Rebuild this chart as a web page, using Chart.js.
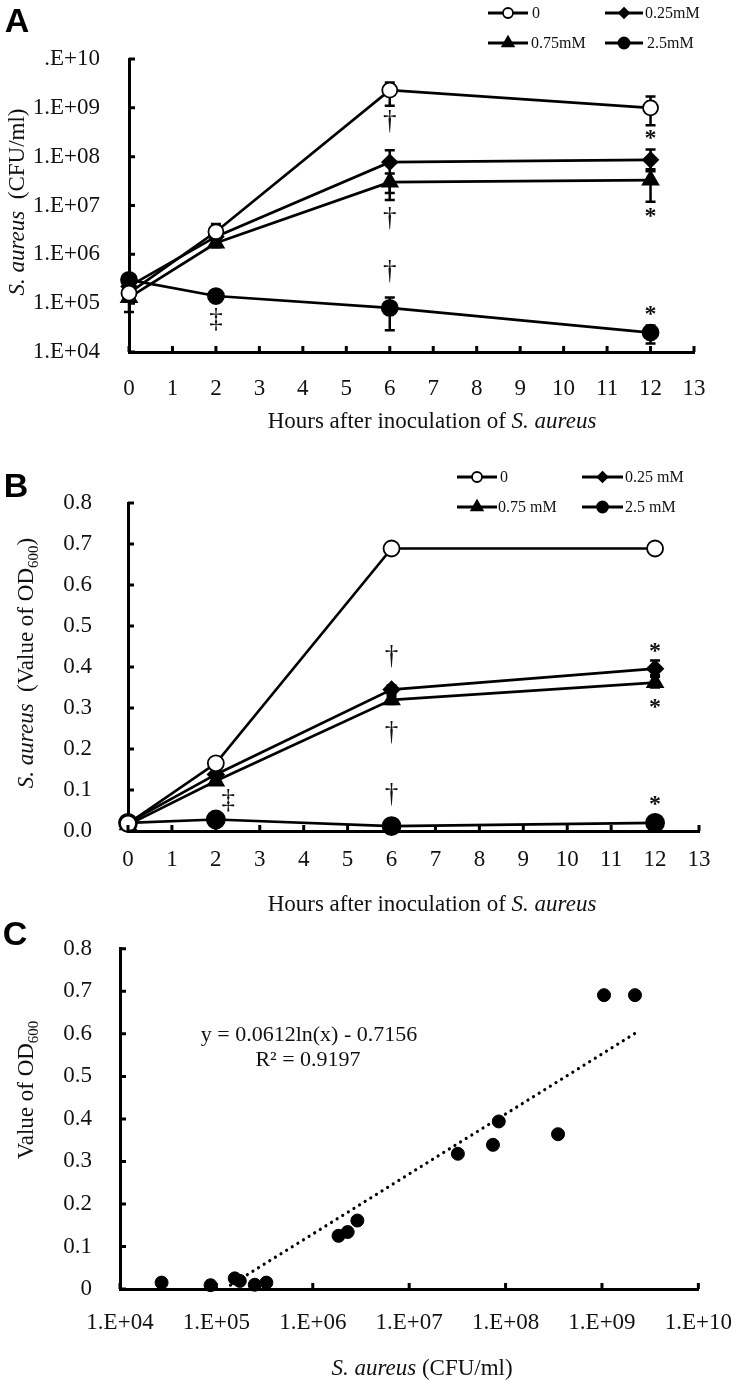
<!DOCTYPE html>
<html>
<head>
<meta charset="utf-8">
<script src="https://cdn.jsdelivr.net/npm/chart.js@4"></script>
<style>
  body { margin: 0; background: #fff; }
  #wrap { position: relative; width: 744px; height: 1380px; }
  canvas { position: absolute; left: 0; }
</style>
</head>
<body>
<div id="wrap">
  <canvas id="chartA" width="744" height="460" style="top:0"></canvas>
  <canvas id="chartB" width="744" height="455" style="top:460px"></canvas>
  <canvas id="chartC" width="744" height="465" style="top:915px"></canvas>
</div>
<script>
// ---- data ----
const hours = [0, 2, 6, 12];
const hourTicks = [0, 1, 2, 3, 4, 5, 6, 7, 8, 9, 10, 11, 12, 13];
const namesA = ['0', '0.25mM', '0.75mM', '2.5mM'];
const namesB = ['0', '0.25 mM', '0.75 mM', '2.5 mM'];

// Panel A: S. aureus (CFU/ml)
const cfu0 = [1.6e5, 2.9e6, 2.3e9, 1.0e9];
const cfu025 = [2.2e5, 2.3e6, 7.7e7, 8.6e7];
const cfu075 = [1.3e5, 1.7e6, 3.0e7, 3.3e7];
const cfu25 = [3.0e5, 1.4e5, 8.0e4, 2.5e4];
// error bar ends
const cfu0Lo = [1.3e5, 2.2e6, 1.1e9, 4.4e8];
const cfu0Hi = [2.0e5, 4.2e6, 3.3e9, 1.7e9];
const cfu025Lo = [1.8e5, 1.9e6, 1.8e7, 5.5e7];
const cfu025Hi = [2.7e5, 2.8e6, 1.35e8, 1.4e8];
const cfu075Lo = [6.6e4, 1.4e6, 1.3e7, 1.2e7];
const cfu075Hi = [1.6e5, 2.0e6, 4.5e7, 5.0e7];
const cfu25Lo = [2.5e5, 1.2e5, 2.8e4, 1.5e4];
const cfu25Hi = [3.6e5, 1.6e5, 1.3e5, 3.5e4];
const cfuTicks = [1e4, 1e5, 1e6, 1e7, 1e8, 1e9, 1e10];
const cfuTickLabels = ['1.E+04', '1.E+05', '1.E+06', '1.E+07', '1.E+08', '1.E+09', '.E+10'];

// Panel B: OD600
const od0 = [0.018, 0.165, 0.689, 0.689];
const od025 = [0.020, 0.138, 0.345, 0.396];
const od075 = [0.015, 0.122, 0.320, 0.362];
const od25 = [0.020, 0.028, 0.012, 0.020];
const od0Lo = [0.015, 0.158, 0.675, 0.680];
const od0Hi = [0.021, 0.172, 0.703, 0.698];
const od025Lo = [0.018, 0.132, 0.335, 0.380];
const od025Hi = [0.022, 0.144, 0.355, 0.416];
const od075Lo = [0.013, 0.116, 0.310, 0.350];
const od075Hi = [0.017, 0.128, 0.330, 0.376];
const od25Lo = [0.018, 0.025, 0.010, 0.017];
const od25Hi = [0.022, 0.031, 0.014, 0.023];
const odTicks = [0, 0.1, 0.2, 0.3, 0.4, 0.5, 0.6, 0.7, 0.8];
const odTickLabelsB = ['0.0', '0.1', '0.2', '0.3', '0.4', '0.5', '0.6', '0.7', '0.8'];
const odTickLabelsC = ['0', '0.1', '0.2', '0.3', '0.4', '0.5', '0.6', '0.7', '0.8'];

// Panel C: OD600 vs CFU/ml
const scatterCfu = [2.7e4, 8.7e4, 1.55e5, 1.75e5, 2.5e5, 3.3e5, 1.85e6, 2.3e6, 2.9e6, 3.2e7, 7.4e7, 8.5e7, 3.5e8, 1.05e9, 2.2e9];
const scatterOd = [0.015, 0.009, 0.025, 0.019, 0.010, 0.015, 0.125, 0.134, 0.161, 0.318, 0.339, 0.394, 0.364, 0.691, 0.691];
const trendCfu = [1.4e5, 2.2e9];
const trendOd = [0.009, 0.601];
const cfuTickLabelsC = ['1.E+04', '1.E+05', '1.E+06', '1.E+07', '1.E+08', '1.E+09', '1.E+10'];

// significance marks (data coordinates)
const marksA = [
    { x: 6, y: 3.8e8, s: '\u2020' }, { x: 6, y: 5.5e6, s: '\u2020' }, { x: 6, y: 4.4e5, s: '\u2020' },
    { x: 2, y: 4.7e4, s: '\u2021' },
    { x: 12, y: 2.8e8, s: '*' }, { x: 12, y: 7.2e6, s: '*' }, { x: 12, y: 7.2e4, s: '*' }
];
const marksB = [
    { x: 6, y: 0.409, s: '\u2020' }, { x: 6, y: 0.241, s: '\u2020' }, { x: 6, y: 0.088, s: '\u2020' },
    { x: 2.28, y: 0.075, s: '\u2021' },
    { x: 12, y: 0.448, s: '*' }, { x: 12, y: 0.311, s: '*' }, { x: 12, y: 0.075, s: '*' }
];

// ---- styling helpers ----
const SERIF = '"Liberation Serif", "Times New Roman", serif';
const SANS = '"Liberation Sans", Arial, sans-serif';
const INK = '#111';
const tickFont = { family: SERIF, size: 23 };

function run(text, size, style, dy) {
    return { text: text, font: (style || '') + ' ' + size + 'px ' + SERIF, dy: dy || 0 };
}

function drawRuns(ctx, runs, cx, cy, rot, size) {
    ctx.save();
    ctx.translate(cx, cy);
    ctx.rotate(rot || 0);
    let total = 0;
    runs.forEach(r => { ctx.font = r.font; r.w = ctx.measureText(r.text).width; total += r.w; });
    let x = -total / 2;
    ctx.textBaseline = 'alphabetic';
    ctx.textAlign = 'left';
    ctx.fillStyle = INK;
    const base = (size || 23) * 0.33;
    runs.forEach(r => { ctx.font = r.font; ctx.fillText(r.text, x, base + r.dy); x += r.w; });
    ctx.restore();
}

function drawInkCentered(ctx, text, x, y) {
    const m = ctx.measureText(text);
    const asc = m.actualBoundingBoxAscent, desc = m.actualBoundingBoxDescent;
    ctx.textAlign = 'center';
    ctx.textBaseline = 'alphabetic';
    ctx.fillText(text, x, y + (asc - desc) / 2);
}

function drawMarker(ctx, style, x, y, r, fill) {
    ctx.beginPath();
    if (style === 'circle') {
        ctx.arc(x, y, r, 0, Math.PI * 2);
    } else if (style === 'rectRot') {
        ctx.moveTo(x, y - r); ctx.lineTo(x + r, y); ctx.lineTo(x, y + r); ctx.lineTo(x - r, y);
        ctx.closePath();
    } else if (style === 'triangle') {
        ctx.moveTo(x, y - r); ctx.lineTo(x + r * 0.87, y + r * 0.5); ctx.lineTo(x - r * 0.87, y + r * 0.5);
        ctx.closePath();
    }
    ctx.fillStyle = fill;
    ctx.fill();
    ctx.lineWidth = 1.8;
    ctx.strokeStyle = '#000';
    ctx.stroke();
}

// error bars, inward tick marks, legend, letters, titles and marks
const decorPlugin = {
    id: 'decor',
    beforeDatasetsDraw(chart) {
        const ctx = chart.ctx;
        const ys = chart.scales.y;
        chart.data.datasets.forEach((ds, i) => {
            if (!ds.errLo) return;
            const meta = chart.getDatasetMeta(i);
            ctx.save();
            ctx.strokeStyle = '#000';
            ctx.lineWidth = 2.5;
            meta.data.forEach((pt, j) => {
                const yl = ys.getPixelForValue(ds.errLo[j]);
                const yh = ys.getPixelForValue(ds.errHi[j]);
                ctx.beginPath();
                ctx.moveTo(pt.x, yl); ctx.lineTo(pt.x, yh);
                ctx.moveTo(pt.x - 5, yl); ctx.lineTo(pt.x + 5, yl);
                ctx.moveTo(pt.x - 5, yh); ctx.lineTo(pt.x + 5, yh);
                ctx.stroke();
            });
            ctx.restore();
        });
    },
    afterDraw(chart, args, opts) {
        const ctx = chart.ctx;
        const area = chart.chartArea;
        const xs = chart.scales.x, ys = chart.scales.y;
        ctx.save();

        // inward ticks
        ctx.strokeStyle = '#000';
        ctx.lineWidth = 3;
        ctx.beginPath();
        xs.ticks.forEach(t => {
            const px = xs.getPixelForValue(t.value);
            ctx.moveTo(px, area.bottom); ctx.lineTo(px, area.bottom - 6);
        });
        ys.ticks.forEach(t => {
            const py = ys.getPixelForValue(t.value);
            ctx.moveTo(area.left, py); ctx.lineTo(area.left + 6, py);
        });
        ctx.stroke();

        // panel letter
        if (opts.letter) {
            ctx.fillStyle = '#000';
            ctx.font = 'bold 34px ' + SANS;
            drawInkCentered(ctx, opts.letter.text, opts.letter.x, opts.letter.y);
        }

        // legend
        (opts.legend || []).forEach(item => {
            const ds = chart.data.datasets[item.ds];
            ctx.strokeStyle = '#000';
            ctx.lineWidth = 3;
            ctx.beginPath();
            ctx.moveTo(item.x1, item.y); ctx.lineTo(item.x2, item.y);
            ctx.stroke();
            drawMarker(ctx, ds.pointStyle, (item.x1 + item.x2) / 2, item.y, item.r, ds.pointBackgroundColor);
            ctx.fillStyle = INK;
            ctx.font = '16px ' + SERIF;
            ctx.textAlign = 'left';
            ctx.textBaseline = 'middle';
            ctx.fillText(ds.label, item.tx, item.y + 1);
        });

        // titles
        (opts.titles || []).forEach(t => drawRuns(ctx, t.runs, t.x, t.y, t.rot, t.size));

        // significance marks
        (opts.marks || []).forEach(m => {
            ctx.fillStyle = INK;
            ctx.font = (m.s === '*' ? 'bold 24px ' : '27px ') + SERIF;
            drawInkCentered(ctx, m.s, xs.getPixelForValue(m.x), ys.getPixelForValue(m.y));
        });

        // free text
        (opts.texts || []).forEach(t => {
            ctx.fillStyle = INK;
            ctx.font = t.font;
            ctx.textAlign = 'center';
            ctx.textBaseline = 'middle';
            ctx.fillText(t.text, t.x, t.y);
        });
        ctx.restore();
    }
};

function lineSet(label, ys, lo, hi, style, r, fill) {
    return {
        label: label,
        data: hours.map((h, i) => ({ x: h, y: ys[i] })),
        errLo: lo, errHi: hi,
        borderColor: '#000', borderWidth: 2.7,
        pointStyle: style, pointRadius: r, pointHoverRadius: r,
        pointBackgroundColor: fill, pointBorderColor: '#000', pointBorderWidth: 1.8,
        tension: 0, fill: false, clip: false
    };
}

function axis(type, min, max, tickVals, tickLabels, padding, fit) {
    return {
        type: type, min: min, max: max,
        afterBuildTicks: s => { s.ticks = tickVals.map(v => ({ value: v })); },
        afterFit: fit,
        grid: { display: false },
        border: { display: true, color: '#000', width: 3 },
        ticks: {
            font: tickFont, color: INK, padding: padding,
            autoSkip: false, maxRotation: 0, minRotation: 0,
            callback: (v, i) => tickLabels[i]
        }
    };
}

const hoursTitle = [run('Hours after inoculation of ', 23), run('S. aureus', 23, 'italic')];

// ---- Panel A ----
new Chart(document.getElementById('chartA'), {
    type: 'line',
    data: {
        datasets: [
            lineSet(namesA[0], cfu0, cfu0Lo, cfu0Hi, 'circle', 7.5, '#fff'),
            lineSet(namesA[1], cfu025, cfu025Lo, cfu025Hi, 'rectRot', 7.5, '#000'),
            lineSet(namesA[2], cfu075, cfu075Lo, cfu075Hi, 'triangle', 9, '#000'),
            lineSet(namesA[3], cfu25, cfu25Lo, cfu25Hi, 'circle', 8, '#000')
        ]
    },
    options: {
        responsive: false, animation: false,
        layout: { padding: { left: 0, top: 59, right: 744 - 694, bottom: 0 } },
        plugins: {
            legend: { display: false }, tooltip: { enabled: false },
            decor: {
                letter: { text: 'A', x: 17, y: 20 },
                legend: [
                    { ds: 0, x1: 488, x2: 528, y: 13, tx: 532, r: 5 },
                    { ds: 1, x1: 605, x2: 643, y: 13, tx: 645, r: 5 },
                    { ds: 2, x1: 488, x2: 528, y: 43, tx: 531, r: 6.5 },
                    { ds: 3, x1: 605, x2: 643, y: 43, tx: 647, r: 5.5 }
                ],
                titles: [
                    { runs: hoursTitle, x: 432, y: 420 },
                    { runs: [run('S. aureus', 23, 'italic'), run('  (CFU/ml)', 23)], x: 16, y: 202, rot: -Math.PI / 2 }
                ],
                marks: marksA
            }
        },
        scales: {
            x: axis('linear', 0, 13, hourTicks, hourTicks.map(String), 15, s => { s.height = 460 - 352; }),
            y: axis('logarithmic', 1e4, 1e10, cfuTicks, cfuTickLabels, 21, s => { s.width = 129; })
        }
    },
    plugins: [decorPlugin]
});

// ---- Panel B ----
new Chart(document.getElementById('chartB'), {
    type: 'line',
    data: {
        datasets: [
            lineSet(namesB[0], od0, od0Lo, od0Hi, 'circle', 8, '#fff'),
            lineSet(namesB[1], od025, od025Lo, od025Hi, 'rectRot', 8, '#000'),
            lineSet(namesB[2], od075, od075Lo, od075Hi, 'triangle', 9, '#000'),
            lineSet(namesB[3], od25, od25Lo, od25Hi, 'circle', 9, '#000')
        ]
    },
    options: {
        responsive: false, animation: false,
        layout: { padding: { left: 0, top: 43, right: 744 - 699, bottom: 0 } },
        plugins: {
            legend: { display: false }, tooltip: { enabled: false },
            decor: {
                letter: { text: 'B', x: 16, y: 25 },
                legend: [
                    { ds: 0, x1: 457, x2: 497, y: 17, tx: 500, r: 5 },
                    { ds: 1, x1: 582, x2: 623, y: 17, tx: 625, r: 5 },
                    { ds: 2, x1: 457, x2: 497, y: 47, tx: 498, r: 6.5 },
                    { ds: 3, x1: 582, x2: 623, y: 47, tx: 625, r: 5.5 }
                ],
                titles: [
                    { runs: hoursTitle, x: 432, y: 443 },
                    { runs: [run('S. aureus', 23, 'italic'), run('  (Value of OD', 23), run('600', 15, '', 5), run(')', 23)], x: 25, y: 203, rot: -Math.PI / 2 }
                ],
                marks: marksB
            }
        },
        scales: {
            x: axis('linear', 0, 13, hourTicks, hourTicks.map(String), 7, s => { s.height = 455 - 371; }),
            y: axis('linear', 0, 0.8, odTicks, odTickLabelsB, 28, s => { s.width = 128; })
        }
    },
    plugins: [decorPlugin]
});

// ---- Panel C ----
new Chart(document.getElementById('chartC'), {
    type: 'scatter',
    data: {
        datasets: [
            {
                label: 'OD vs CFU',
                data: scatterCfu.map((v, i) => ({ x: v, y: scatterOd[i] })),
                pointStyle: 'circle', pointRadius: 6.5, pointHoverRadius: 6.5,
                pointBackgroundColor: '#000', pointBorderColor: '#000', pointBorderWidth: 1,
                showLine: false, clip: false
            },
            {
                label: 'Log. trend',
                type: 'line',
                data: trendCfu.map((v, i) => ({ x: v, y: trendOd[i] })),
                borderColor: '#000', borderWidth: 3.2,
                borderDash: [0.01, 6.6], borderCapStyle: 'round',
                pointRadius: 0, fill: false, clip: false
            }
        ]
    },
    options: {
        responsive: false, animation: false,
        layout: { padding: { left: 0, top: 27, right: 744 - 708, bottom: 0 } },
        plugins: {
            legend: { display: false }, tooltip: { enabled: false },
            decor: {
                letter: { text: 'C', x: 15, y: 18 },
                titles: [
                    { runs: [run('S. aureus', 23, 'italic'), run(' (CFU/ml)', 23)], x: 422, y: 452 },
                    { runs: [run('Value of OD', 23), run('600', 15, '', 5)], x: 25, y: 175, rot: -Math.PI / 2 }
                ],
                texts: [
                    { text: 'y = 0.0612ln(x) - 0.7156', x: 309, y: 120, font: '22px ' + SERIF },
                    { text: 'R\u00b2 = 0.9197', x: 308, y: 145, font: '22px ' + SERIF }
                ]
            }
        },
        scales: {
            x: axis('logarithmic', 1e4, 1e10, cfuTicks, cfuTickLabelsC, 12, s => { s.height = 465 - 374; }),
            y: axis('linear', 0, 0.8, odTicks, odTickLabelsC, 20, s => { s.width = 120; })
        }
    },
    plugins: [decorPlugin]
});
</script>
</body>
</html>
